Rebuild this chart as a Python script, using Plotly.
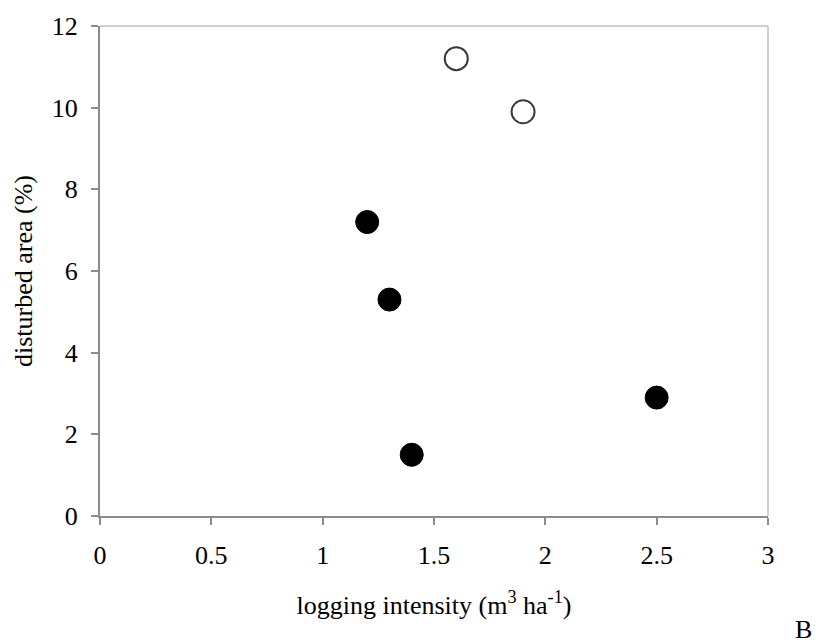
import plotly.graph_objects as go

# Data
open_x = [1.6, 1.9]
open_y = [11.2, 9.9]
filled_x = [1.2, 1.3, 1.4, 2.5]
filled_y = [7.2, 5.3, 1.5, 2.9]

x_ticks = [0, 0.5, 1, 1.5, 2, 2.5, 3]
x_labels = ["0", "0.5", "1", "1.5", "2", "2.5", "3"]
y_ticks = [0, 2, 4, 6, 8, 10, 12]
y_labels = ["0", "2", "4", "6", "8", "10", "12"]

FONT = "Liberation Serif, Times New Roman, serif"
FS = 26

fig = go.Figure()
fig.add_trace(go.Scatter(
    x=filled_x, y=filled_y, mode="markers",
    marker=dict(size=23, color="black", line=dict(color="black", width=1)),
    showlegend=False, cliponaxis=False))
fig.add_trace(go.Scatter(
    x=open_x, y=open_y, mode="markers",
    marker=dict(size=23, color="white", line=dict(color="#3a3a3a", width=2)),
    showlegend=False, cliponaxis=False))

axis_common = dict(
    showgrid=False, zeroline=False, showline=True,
    linecolor="#8c8c8c", linewidth=2,
    ticks="outside", ticklen=7, tickwidth=2, tickcolor="#8c8c8c",
    tickfont=dict(family=FONT, size=FS, color="black"),
)

fig.update_xaxes(range=[0, 3], tickvals=x_ticks, ticktext=x_labels,
                 title=dict(text="logging intensity (m<sup>3</sup> ha<sup>-1</sup>)",
                            font=dict(family=FONT, size=FS, color="black"), standoff=27),
                 ticklabelstandoff=8, **axis_common)
fig.update_yaxes(range=[0, 12], tickvals=y_ticks, ticktext=y_labels,
                 title=dict(text="disturbed area (%)",
                            font=dict(family=FONT, size=FS, color="black"), standoff=12),
                 ticklabelstandoff=8, **axis_common)

# light frame on top and right
fig.add_shape(type="line", xref="paper", yref="paper", x0=0, x1=1, y0=1, y1=1,
              line=dict(color="#c0c0c0", width=1.5), layer="below")
fig.add_shape(type="line", xref="paper", yref="paper", x0=1, x1=1, y0=0, y1=1,
              line=dict(color="#c0c0c0", width=1.5), layer="below")

fig.add_annotation(text="B", xref="paper", yref="paper", x=1.0, y=0,
                   xanchor="center", yanchor="middle", xshift=35, yshift=-113,
                   showarrow=False, font=dict(family=FONT, size=FS, color="black"))

fig.update_layout(
    width=816, height=644,
    margin=dict(l=100, r=48, t=20, b=128),
    paper_bgcolor="white", plot_bgcolor="white",
)

fig.write_html("out.html", config={"displayModeBar": False},
               post_script="document.body.style.margin='0';")
